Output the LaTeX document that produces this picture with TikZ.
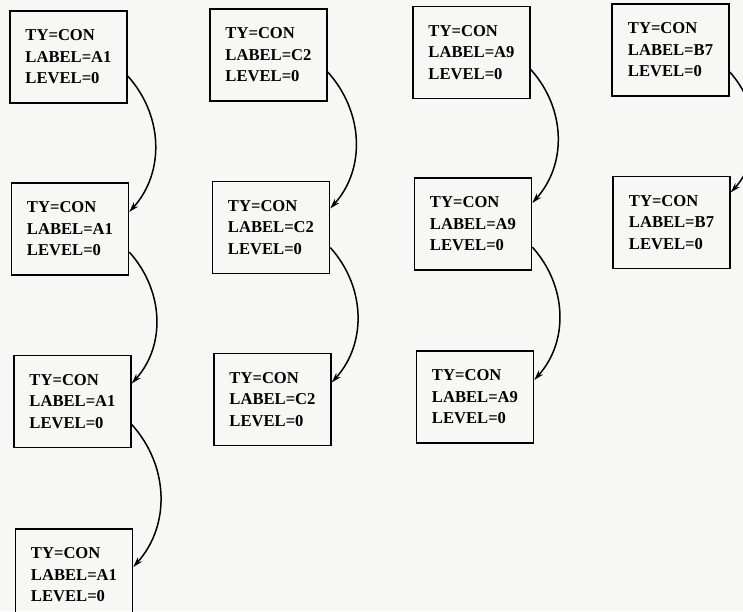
\documentclass[tikz,border=0pt]{standalone}
\usepackage{fontspec}
\setmainfont{Liberation Serif}
\usetikzlibrary{arrows.meta}
\definecolor{paper}{RGB}{247,247,245}
\begin{document}
\begin{tikzpicture}[x=1pt,y=-1pt,
  rec/.style={draw, line width=1.5pt, minimum width=117pt, minimum height=92pt,
    inner sep=0pt, align=left, font=\bfseries\fontsize{16.6pt}{21.5pt}\selectfont},
  arr/.style={line width=1.5pt, -{Stealth[length=10pt,width=6pt]}}]
\fill[paper] (0,0) rectangle (743,611);
\clip (0,0) rectangle (743,611);
% column 1
\node[rec] (a1) at (68.5,57)  {TY=CON\\LABEL=A1\\LEVEL=0};
\node[rec] (a2) at (70,229)   {TY=CON\\LABEL=A1\\LEVEL=0};
\node[rec] (a3) at (72.5,401.5) {TY=CON\\LABEL=A1\\LEVEL=0};
\node[rec] (a4) at (74,575)   {TY=CON\\LABEL=A1\\LEVEL=0};
% column 2
\node[rec] (c1) at (268.5,55)  {TY=CON\\LABEL=C2\\LEVEL=0};
\node[rec] (c2) at (271,227.5) {TY=CON\\LABEL=C2\\LEVEL=0};
\node[rec] (c3) at (272.5,399.5) {TY=CON\\LABEL=C2\\LEVEL=0};
% column 3
\node[rec] (n1) at (471.5,52.5) {TY=CON\\LABEL=A9\\LEVEL=0};
\node[rec] (n2) at (473,224)    {TY=CON\\LABEL=A9\\LEVEL=0};
\node[rec] (n3) at (475,397)    {TY=CON\\LABEL=A9\\LEVEL=0};
% column 4
\node[rec] (b1) at (670.5,50)  {TY=CON\\LABEL=B7\\LEVEL=0};
\node[rec] (b2) at (671.5,222.5) {TY=CON\\LABEL=B7\\LEVEL=0};
% connectors
\draw[arr] ([yshift=-19pt]a1.east) to[out=-48,in=48] ([yshift=17pt]a2.east);
\draw[arr] ([yshift=-23pt]a2.east) to[out=-48,in=48] ([yshift=18pt]a3.east);
\draw[arr] ([yshift=-23pt]a3.east) to[out=-48,in=48] ([yshift=8pt]a4.east);
\draw[arr] ([yshift=-17pt]c1.east) to[out=-48,in=48] ([yshift=19pt]c2.east);
\draw[arr] ([yshift=-20pt]c2.east) to[out=-48,in=48] ([yshift=17pt]c3.east);
\draw[arr] ([yshift=-17pt]n1.east) to[out=-48,in=48] ([yshift=21pt]n2.east);
\draw[arr] ([yshift=-23pt]n2.east) to[out=-48,in=48] ([yshift=17pt]n3.east);
\draw[arr] ([yshift=-22pt]b1.east) to[out=-48,in=48] ([yshift=30pt]b2.east);
\end{tikzpicture}
\end{document}
